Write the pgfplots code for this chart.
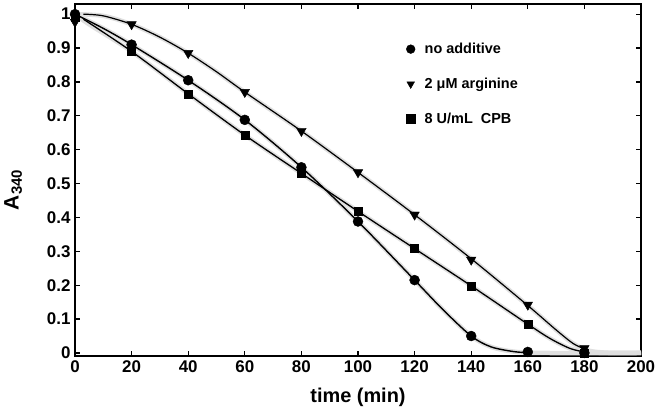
\documentclass[border=0pt]{standalone}
\usepackage{fontspec}
\setmainfont{Liberation Sans}
\usepackage{pgfplots}
\pgfplotsset{compat=1.18}
\begin{document}
\begin{tikzpicture}
\begin{axis}[
  scale only axis,
  width=566bp, height=352bp,
  xmin=0, xmax=200, ymin=-0.009, ymax=1.03,
  xtick={0,20,...,200},
  ytick={0,0.1,0.2,0.3,0.4,0.5,0.6,0.7,0.8,0.9,1},
  yticklabels={0,0.1,0.2,0.3,0.4,0.5,0.6,0.7,0.8,0.9,1},
  tick align=inside,
  major tick length=5bp,
  axis line style={line width=1.6bp},
  every tick/.style={line width=1.3bp, black},
  /pgf/number format/assume math mode=true,
  tick label style={font=\fontsize{17}{19}\selectfont\bfseries},
  xticklabel style={yshift=-1bp},
  yticklabel style={xshift=-1bp},
  xlabel={time (min)},
  xlabel style={font=\fontsize{20}{22}\selectfont\bfseries, yshift=-9bp},
  ylabel={A\raisebox{-0.3ex}{\fontsize{15}{16}\selectfont 340}},
  ylabel style={font=\fontsize{21}{23}\selectfont\bfseries, yshift=18bp, xshift=-10bp},
  legend style={draw=none, fill=none, at={(axis description cs:0.585,0.895)}, anchor=north west,
    font=\fontsize{14.5}{16}\selectfont\bfseries, row sep=19bp, inner sep=0pt},
  legend cell align=left,
  legend image code/.code={\path[draw=none,fill=none] (-4bp,0bp) rectangle (12bp,0.1bp); \draw[#1,mark size=4.4bp] plot coordinates {(0bp,0bp)};},
]
% gray halos
\addplot[gray!25, line width=4.5bp, smooth, tension=0.5, forget plot] coordinates {
(0,1.0)(10,0.958)(20,0.91)(40,0.805)(60,0.688)(80,0.548)(100,0.388)(120,0.215)(130,0.128)(140,0.05)(147,0.018)(155,0.004)(165,0.0)(200,0.0)};
\addplot[gray!25, line width=4.5bp, smooth, tension=0.5, forget plot] coordinates {
(0,1.0)(10,0.995)(20,0.97)(30,0.932)(40,0.885)(50,0.83)(60,0.77)(80,0.655)(100,0.533)(120,0.408)(140,0.278)(160,0.14)(170,0.068)(176,0.028)(182,0.006)(190,0.0)(200,0.0)};
\addplot[gray!25, line width=4.5bp, smooth, tension=0.5, forget plot] coordinates {
(0,1.0)(5,0.97)(20,0.89)(40,0.765)(60,0.643)(80,0.53)(100,0.418)(120,0.308)(140,0.198)(160,0.085)(168,0.042)(175,0.013)(182,0.002)(190,0.0)(200,0.0)};
% black fitted lines
\addplot[black, line width=1.4bp, smooth, tension=0.5, forget plot] coordinates {
(0,1.0)(10,0.958)(20,0.91)(40,0.805)(60,0.688)(80,0.548)(100,0.388)(120,0.215)(130,0.128)(140,0.05)(147,0.018)(155,0.004)(160,0.001)};
\addplot[black, line width=1.2bp, smooth, tension=0.5, forget plot] coordinates {
(3,1.0)(10,0.995)(20,0.97)(30,0.932)(40,0.885)(50,0.83)(60,0.77)(80,0.655)(100,0.533)(120,0.408)(140,0.278)(160,0.14)(170,0.068)(176,0.028)(180,0.012)};
\addplot[black, line width=1.3bp, smooth, tension=0.5, forget plot] coordinates {
(3,0.985)(20,0.89)(40,0.765)(60,0.643)(80,0.53)(100,0.418)(120,0.308)(140,0.198)(160,0.085)(168,0.042)(175,0.013)(180,0.003)};
% markers
\addplot[only marks, mark=*, mark size=5bp, black] coordinates {
(0,1.0)(20,0.91)(40,0.805)(60,0.688)(80,0.548)(100,0.388)(120,0.215)(140,0.05)(160,0.003)(180,0.0)};
\addlegendentry{no additive}
\addplot[only marks, mark=triangle*, mark size=5.5bp, mark options={rotate=180}, black] coordinates {
(0,0.977)(20,0.97)(40,0.885)(60,0.77)(80,0.655)(100,0.533)(120,0.408)(140,0.275)(160,0.142)(180,0.014)};
\addlegendentry{2 μM arginine}
\addplot[only marks, mark=square*, mark size=4bp, black] coordinates {
(0,0.99)(20,0.89)(40,0.765)(60,0.643)(80,0.53)(100,0.418)(120,0.308)(140,0.198)(160,0.086)(180,0.0)};
\addlegendentry{8 U/mL\ \ CPB}
\end{axis}
\pgfresetboundingbox
\path[use as bounding box] (-75bp,-55bp) rectangle (583bp,356bp);
\end{tikzpicture}
\end{document}
